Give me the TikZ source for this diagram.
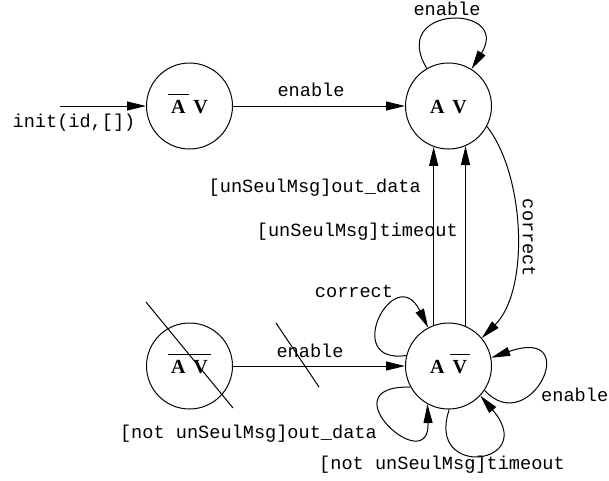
\documentclass[tikz,border=0pt]{standalone}
\usepackage{fontspec}
\setmainfont{Liberation Serif}
\setmonofont{Liberation Mono}
\usetikzlibrary{arrows.meta}
\newcommand\ob[1]{\leavevmode\setbox0=\hbox{#1}\rlap{\kern-3pt\vbox{\hrule height 1.2pt width\dimexpr\wd0+6pt\relax\kern5pt\hbox{\rule{0pt}{\ht0}}}}\box0}
\newcommand\avsp{\hspace{0.4em}}
\tikzset{
  state/.style={circle,draw,line width=1pt,minimum size=86pt,inner sep=0pt,
    text height=14pt,text depth=0pt,font=\fontsize{20}{22}\selectfont\bfseries},
  lbl/.style={font=\fontsize{18.6}{21}\selectfont\ttfamily,inner sep=0pt},
  arr/.style={-{Triangle[length=19pt,width=9pt]},line width=1pt},
  strike/.style={line width=1pt}
}
\begin{document}
\begin{tikzpicture}[x=1pt,y=-1pt]
\useasboundingbox (0,0) rectangle (609,480);
\node[state] (tl) at (189.5,106) {\ob{A}\avsp V};
\node[state] (tr) at (448.5,106) {A\avsp V};
\node[state] (bl) at (189.5,366) {\ob{A\avsp V}};
\node[state] (br) at (448.5,366) {A\avsp\ob{V}};
\coordinate (init) at (60,106);
% connectors
\draw[arr] (init) -- (tl);
\draw[arr] (tl) -- (tr);
\draw[arr] (bl) -- (br);
\draw[arr] (tr.120) .. controls (388,4) and (512,4) .. (tr.58);
\draw[arr] (tr.-28) .. controls (525,175) and (530,290) .. (br.40);
\draw[arr] (br.110) -- (tr.250);
\draw[arr] (br.67) -- (tr.293);
\draw[arr] (br.166) .. controls (340,365) and (395,260) .. (br.118);
\draw[arr] (br.-34) .. controls (530,440) and (585,325) .. (br.11);
\draw[arr] (br.-89) .. controls (425,480) and (540,465) .. (br.-43);
\draw[arr] (br.-151) .. controls (325,385) and (430,480) .. (br.-119);
% strike marks
\coordinate (s1) at (146,302); \coordinate (s2) at (233,408);
\draw[strike] (s1) -- (s2);
\coordinate (s3) at (276,323); \coordinate (s4) at (319,387);
\draw[strike] (s3) -- (s4);
% labels
\node[lbl] (linit) at (74,123) {init(id,[])};
\node[lbl] (le1) at (311,90) {enable};
\node[lbl] (le2) at (447,9) {enable};
\node[lbl,rotate=-90] (lc1) at (529,238) {correct};
\node[lbl,anchor=east] (lu1) at (421,188) {[unSeulMsg]out\_data};
\node[lbl,anchor=east] (lu2) at (458,232) {[unSeulMsg]timeout};
\node[lbl] (lc2) at (354,291) {correct};
\node[lbl] (le3) at (310,351) {enable};
\node[lbl,anchor=west] (le4) at (541,395) {enable};
\node[lbl,anchor=east] (ln1) at (377,434) {[not unSeulMsg]out\_data};
\node[lbl] (ln2) at (442,465) {[not unSeulMsg]timeout};
\end{tikzpicture}
\end{document}
